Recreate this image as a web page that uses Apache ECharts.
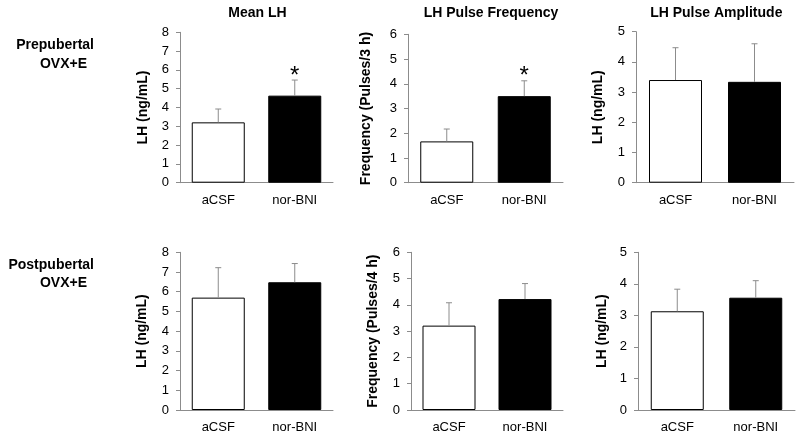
<!DOCTYPE html>
<html>
<head>
<meta charset="utf-8">
<script src="https://cdn.jsdelivr.net/npm/echarts@6/dist/echarts.min.js"></script>
<style>
html,body{margin:0;padding:0;background:#fff;}
#chart{width:800px;height:436px;}
</style>
</head>
<body>
<div id="chart"></div>
<script>
// ---- Data ----
const categories = ['aCSF', 'nor-BNI'];
const panelTitles = ['Mean LH', 'LH Pulse Frequency', 'LH Pulse Amplitude'];
const rowLabels = [['Prepubertal', 'OVX+E'], ['Postpubertal', 'OVX+E']];
const yNames = [
  ['LH (ng/mL)', 'Frequency (Pulses/3 h)', 'LH (ng/mL)'],
  ['LH (ng/mL)', 'Frequency (Pulses/4 h)', 'LH (ng/mL)']
];
const yMax = [8, 6, 5];

const preMeanLH = [3.21, 4.63];
const preMeanLHErr = [0.71, 0.83];
const preFreq = [1.67, 3.50];
const preFreqErr = [0.50, 0.62];
const preAmp = [3.40, 3.34];
const preAmpErr = [1.07, 1.26];

const postMeanLH = [5.70, 6.48];
const postMeanLHErr = [1.52, 0.95];
const postFreq = [3.21, 4.22];
const postFreqErr = [0.87, 0.59];
const postAmp = [3.13, 3.56];
const postAmpErr = [0.70, 0.54];

const preSig = [[false, true], [false, true], [false, false]];
const postSig = [[false, false], [false, false], [false, false]];

const values = [[preMeanLH, preFreq, preAmp], [postMeanLH, postFreq, postAmp]];
const errors = [[preMeanLHErr, preFreqErr, preAmpErr], [postMeanLHErr, postFreqErr, postAmpErr]];
const sigs = [preSig, postSig];

// ---- Layout ----
const gridBoxes = [
  [{left:180, width:153, top:32.3, height:150.4},
   {left:408, width:155, top:34.3, height:148.4},
   {left:636, width:158, top:31.7, height:151}],
  [{left:180, width:153, top:252.3, height:157.7},
   {left:411, width:152, top:252.3, height:157.7},
   {left:638, width:157, top:252.3, height:157.7}]
];
const nameGaps = [[30, 35, 31], [31, 31, 29]];
const FONT = 'Liberation Sans, Arial, sans-serif';
const AX = '#8c8c8c';

const grids = [], xAxes = [], yAxes = [], series = [];
let idx = 0;
for (let r = 0; r < 2; r++) {
  for (let c = 0; c < 3; c++) {
    const g = gridBoxes[r][c];
    grids.push({left: g.left, top: g.top, width: g.width, height: g.height, containLabel: false});
    xAxes.push({
      type: 'category', gridIndex: idx, data: categories,
      axisLine: {lineStyle: {color: AX, width: 1}},
      axisTick: {show: false},
      axisLabel: {color: '#000', fontSize: 13, fontFamily: FONT, margin: 11}
    });
    yAxes.push({
      type: 'value', gridIndex: idx, min: 0, max: yMax[c], interval: 1,
      name: yNames[r][c], nameLocation: 'middle', nameRotate: 90, nameGap: nameGaps[r][c],
      nameTextStyle: {color: '#000', fontSize: 14, fontWeight: 'bold', fontFamily: FONT, verticalAlign: 'bottom'},
      axisLine: {show: true, lineStyle: {color: AX, width: 1}},
      axisTick: {show: true, length: 4, lineStyle: {color: AX}},
      axisLabel: {color: '#000', fontSize: 13, fontFamily: FONT, margin: 11},
      splitLine: {show: false}
    });
    const vals = values[r][c];
    const errs = errors[r][c];
    const sg = sigs[r][c];
    series.push({
      type: 'bar', xAxisIndex: idx, yAxisIndex: idx, barWidth: 53,
      data: vals.map((v, i) => ({
        value: v,
        itemStyle: i === 0 ? {color: '#fff', borderColor: '#000', borderWidth: 1} : {color: '#000', borderColor: '#000', borderWidth: 1}
      })),
      silent: true, animation: false
    });
    series.push({
      type: 'custom', xAxisIndex: idx, yAxisIndex: idx, silent: true, animation: false, z: 5,
      data: vals.map((v, i) => [i, v, errs[i], sg[i] ? 1 : 0]),
      renderItem: function (params, api) {
        const x = api.value(0), y = api.value(1), e = api.value(2), s = api.value(3);
        const p0 = api.coord([x, y]);
        const p1 = api.coord([x, y + e]);
        const children = [
          {type: 'line', shape: {x1: p0[0], y1: p0[1], x2: p1[0], y2: p1[1]}, style: {stroke: AX, lineWidth: 1}},
          {type: 'line', shape: {x1: p1[0] - 3, y1: p1[1], x2: p1[0] + 3, y2: p1[1]}, style: {stroke: AX, lineWidth: 1}}
        ];
        if (s) {
          children.push({type: 'text', style: {text: '*', x: p1[0], y: p1[1] + 8, align: 'center', verticalAlign: 'bottom', fill: '#000', font: '24px ' + FONT}});
        }
        return {type: 'group', children: children};
      }
    });
    idx++;
  }
}

const titleCenters = [257.5, 491, 716.3];
const graphic = [];
titleCenters.forEach((cx, i) => {
  graphic.push({type: 'text', x: cx, y: 13, style: {text: panelTitles[i], align: 'center', verticalAlign: 'middle', fill: '#000', font: 'bold 14px ' + FONT}});
});
const rowY = [[45, 64], [265, 283]];
const rowRight = [[94, 87], [94, 87]];
for (let r = 0; r < 2; r++) {
  for (let k = 0; k < 2; k++) {
    graphic.push({type: 'text', x: rowRight[r][k], y: rowY[r][k], style: {text: rowLabels[r][k], align: 'right', verticalAlign: 'middle', fill: '#000', font: 'bold 14px ' + FONT}});
  }
}

const chart = echarts.init(document.getElementById('chart'), null, {renderer: 'canvas'});
chart.setOption({
  backgroundColor: '#fff',
  animation: false,
  grid: grids, xAxis: xAxes, yAxis: yAxes, series: series,
  graphic: graphic
});
</script>
</body>
</html>
